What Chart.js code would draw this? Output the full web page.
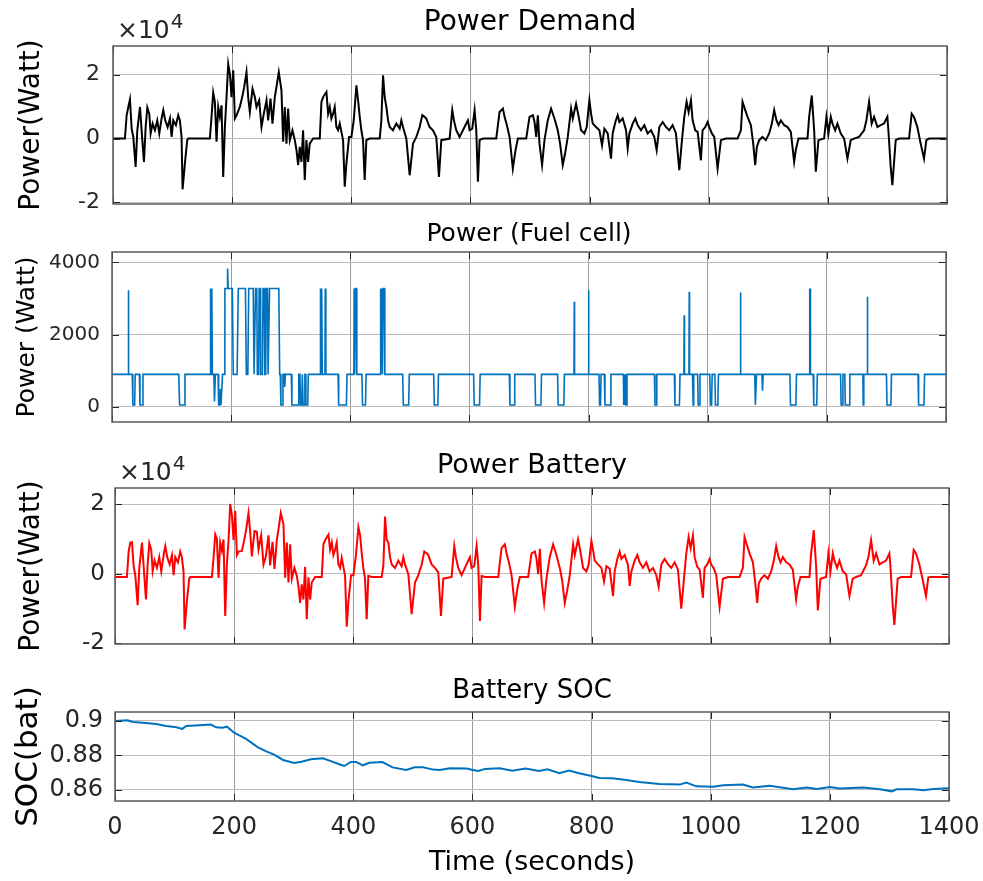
<!DOCTYPE html>
<html lang="en">
<head>
  <meta charset="UTF-8">
  <title>Power Demand / Fuel cell / Battery / SOC</title>
  <script src="https://cdn.jsdelivr.net/npm/chart.js"></script>
  <style>
    body { margin: 0; background: #fff; }
    #fig { position: relative; width: 983px; height: 881px; background: #fff; }
    #fig canvas { position: absolute; left: 0; }
  </style>
</head>
<body>
  <div id="fig">
    <canvas id="demandChart" width="983" height="215" style="top:0"></canvas>
    <canvas id="fuelChart" width="983" height="215" style="top:215px"></canvas>
    <canvas id="batteryChart" width="983" height="225" style="top:430px"></canvas>
    <canvas id="socChart" width="983" height="226" style="top:655px"></canvas>
  </div>

  <script>
    // time axis (seconds)
    const timeTicks = [0, 200, 400, 600, 800, 1000, 1200, 1400];

    // drive cycle sample times (s), shared by demand and battery
    const driveTime = [
      0, 20, 22.9, 25.7, 28.5, 31.3, 34.1, 38, 40.8, 45.3,
      49.2, 52, 54.8, 57.6, 60.9, 63.2, 66.5, 70.4, 74.3, 77.7,
      81.6, 84.4, 87.7, 91.7, 95.6, 98.4, 101.2, 105.6, 109.5, 112.3,
      115.1, 116.8, 120.7, 124.6, 126.3, 162.6, 165.4, 168.2, 171, 173.8,
      176.6, 179.4, 182.2, 185, 187.8, 190.6, 193.4, 196.2, 199, 201.8,
      204.6, 207.4, 212.9, 216.9, 220.2, 224.1, 226.9, 229.7, 234.2, 238.1,
      240.9, 245.4, 249.3, 253.2, 257.7, 260.4, 264.4, 267.7, 271.6, 274.4,
      278.3, 282.8, 285.6, 288.4, 291.2, 294, 296.8, 301.2, 305.2, 308,
      310.8, 313.5, 316.3, 319.1, 321.9, 324.7, 327.5, 330.3, 335.9, 347.1,
      349.9, 352.7, 358.3, 361.1, 363.9, 366.6, 369.4, 372.2, 375, 377.8,
      380.6, 386.2, 389, 391.8, 396.3, 400.2, 404.1, 408.6, 411.4, 414.2,
      416.9, 419.7, 422.5, 425.3, 430.9, 447.7, 450.5, 453.3, 456.1, 458.9,
      461.7, 464.5, 470, 475.6, 481.2, 484, 486.8, 492.4, 498, 503.6,
      509.2, 514.8, 519.2, 523.1, 525.9, 531.5, 537.1, 542.7, 547.2, 551.1,
      565.1, 569.5, 572.3, 576.2, 581.8, 587.4, 593, 595.8, 598.6, 603.1,
      607, 609.8, 612.6, 615.4, 620.9, 643.3, 648.9, 654.5, 657.3, 661.2,
      665.7, 671.2, 675.7, 679.6, 693.6, 699.2, 704.8, 707.6, 710.4, 713.2,
      715.9, 720.3, 724.3, 729.8, 735.4, 741, 746.6, 750.5, 755, 758.9,
      763.4, 769, 771.8, 777.3, 781.8, 785.7, 791.3, 795.2, 799.7, 802.5,
      805.3, 810.9, 816.5, 820.9, 824.9, 830.4, 836, 838.8, 843.3, 847.2,
      850, 855.6, 861.2, 864, 866.8, 872.4, 876.8, 880.7, 886.3, 891.9,
      897.5, 903.1, 908.7, 912.6, 917.1, 922.7, 928.3, 933.8, 939.4, 945,
      950.6, 955.1, 959, 962.9, 966.3, 970.2, 973, 977.4, 981.4, 986.9,
      989.7, 994.2, 998.1, 1000.9, 1005.4, 1009.3, 1014.9, 1020.5, 1028.9, 1048.4,
      1054, 1056.8, 1061.3, 1065.2, 1070.8, 1074.7, 1078, 1080.8, 1084.7, 1090.3,
      1095.9, 1101.5, 1106, 1109.9, 1113.8, 1117.2, 1121.1, 1126.7, 1132.3, 1137.8,
      1143.4, 1146.2, 1150.7, 1165.8, 1168.6, 1173, 1177, 1179.8, 1184.2, 1193.7,
      1197.6, 1201, 1204.9, 1207.7, 1212.2, 1216.1, 1221.7, 1227.3, 1232.9, 1238.4,
      1244, 1252.4, 1260.8, 1264.7, 1269.2, 1273.6, 1277.6, 1283.2, 1288.7, 1294.3,
      1299.9, 1301.6, 1305.5, 1308.3, 1313.9, 1319.5, 1336.3, 1340.7, 1344.6, 1350.2,
      1355.8, 1361.4, 1365.3, 1369.8, 1400
    ];

    // power demand (x 10^4 W)
    const demandPower = [
      0, 0, 0.73, 0.99, 1.23, 0.31, 0.05, -0.89, 0.26, 0.99,
      -0.05, -0.73, 0.36, 0.97, 0.78, 0.16, 0.47, 0.26, 0.57, 0.16,
      0.63, 0.89, 0.57, 0.36, 0.63, 0.05, 0.57, 0.42, 0.73, 0.57,
      0.05, -1.59, -0.78, -0.05, 0, 0, 0.68, 1.44, 1.15, -0.10,
      0.99, 0.68, 1.04, -1.20, 0.36, 1.30, 2.34, 2.03, 1.30, 2.14,
      0.63, 0.73, 0.99, 1.30, 1.61, 2.08, 1.30, 0.83, 1.56, 1.30,
      0.99, 1.20, 0.36, 0.78, 1.20, 0.57, 1.25, 0.47, 1.30, 1.61,
      2.08, 1.51, -0.10, 0.99, -0.16, 0.94, -0.05, 0.26, -0.05, -0.36,
      -0.83, -0.26, -0.73, 0.26, -1.30, -0.05, -0.73, -0.16, 0, 0,
      1.15, 1.30, 1.46, 0.78, 0.99, 0.63, 0.78, 0.99, 0.36, 0.26,
      0.47, -0.05, -1.51, -0.78, 0.05, 0.05, 0.57, 1.67, 1.20, 0.68,
      0.26, -0.05, -1.30, -0.05, 0, 0, 0.57, 1.98, 1.30, 0.99,
      0.57, 0.36, 0.26, 0.47, 0.31, 0.57, 0.36, 0, -1.15, -0.16,
      0.05, 0.36, 0.73, 0.68, 0.63, 0.36, 0.26, 0.05, -1.20, -0.05,
      0, 0.89, 0.57, 0.26, 0.05, 0.26, 0.47, 0.57, 0.26, 0.31,
      0.89, 0.26, -1.35, -0.05, 0, 0, 0.83, 0.94, 0.68, 0.42,
      0.05, -0.94, -0.36, 0, 0, 0.68, 0.73, 0.52, 0.05, 0.73,
      -0.16, -0.83, -0.05, 0.57, 0.94, 0.63, 0.26, -0.16, -0.83, -0.47,
      0.05, 0.94, 0.63, 1.09, 0.68, 0.26, 0.16, 0.36, 1.20, 0.78,
      0.47, 0.36, 0.26, -0.21, 0.31, 0.16, -0.63, 0.16, 0.52, 0.73,
      0.52, 0.63, 0.26, -0.31, 0.16, 0.47, 0.63, 0.42, 0.26, 0.42,
      0.16, 0.26, 0.05, -0.36, 0.36, 0.52, 0.36, 0.26, 0.42, 0.16,
      -0.99, -0.05, 0.68, 1.15, 0.83, 1.20, 0.57, 0.26, 0.21, -0.68,
      0.26, 0.36, 0.52, 0.36, 0.16, 0.05, -0.94, -0.05, 0, 0,
      0.26, 1.15, 0.89, 0.68, 0.42, -0.16, -0.83, -0.26, -0.05, 0.05,
      -0.05, 0.16, 0.47, 0.89, 0.57, 0.42, 0.57, 0.42, 0.36, 0.21,
      -0.73, -0.36, 0, 0, 0.68, 1.35, 0.26, -1.04, -0.05, 0,
      0.68, 0.16, 0.68, 0.47, 0.26, 0.47, 0.16, 0, -0.63, -0.05,
      0, 0.05, 0.26, 0.57, 1.15, 0.47, 0.68, 0.36, 0.42, 0.47,
      0.68, 0.26, -0.89, -1.46, -0.05, 0, 0, 0.78, 0.68, 0.36,
      -0.16, -0.63, -0.05, 0, 0
    ];

    // battery power (x 10^4 W)
    const batteryPower = [
      -0.09, -0.09, 0.64, 0.90, 0.91, 0.22, -0.04, -0.90, 0.17, 0.90,
      -0.06, -0.74, 0.27, 0.88, 0.69, 0.07, 0.38, 0.17, 0.48, 0.07,
      0.54, 0.80, 0.48, 0.27, 0.54, -0.04, 0.48, 0.33, 0.64, 0.48,
      0.05, -1.60, -0.79, -0.14, -0.09, -0.09, 0.45, 1.13, 1.00, -0.12,
      0.90, 0.67, 0.99, -1.21, 0.27, 0.97, 2.01, 1.70, 0.97, 1.81,
      0.54, 0.64, 0.66, 0.97, 1.28, 1.75, 1.21, 0.50, 1.23, 1.21,
      0.70, 1.11, 0.27, 0.50, 1.11, 0.24, 0.92, 0.14, 0.97, 1.28,
      1.75, 1.42, -0.11, 0.90, -0.25, 0.85, -0.14, 0.17, -0.06, -0.37,
      -0.84, -0.30, -0.74, 0.20, -1.31, -0.10, -0.74, -0.25, -0.09, -0.09,
      0.85, 0.97, 1.13, 0.69, 0.90, 0.54, 0.69, 0.90, 0.27, 0.17,
      0.46, -0.06, -1.52, -0.79, -0.04, -0.04, 0.48, 1.34, 1.11, 0.59,
      0.17, -0.14, -1.31, -0.06, -0.09, -0.09, 0.24, 1.65, 0.97, 0.90,
      0.48, 0.27, 0.17, 0.38, 0.22, 0.48, 0.27, -0.01, -1.16, -0.25,
      -0.04, 0.27, 0.64, 0.59, 0.54, 0.27, 0.17, 0.04, -1.21, -0.14,
      -0.09, 0.80, 0.48, 0.17, -0.04, 0.17, 0.38, 0.48, 0.17, 0.22,
      0.80, 0.25, -1.36, -0.06, -0.09, -0.09, 0.74, 0.85, 0.59, 0.33,
      -0.04, -0.95, -0.40, -0.09, -0.09, 0.59, 0.64, 0.43, -0.01, 0.72,
      -0.17, -0.84, -0.14, 0.48, 0.85, 0.54, 0.17, -0.17, -0.84, -0.50,
      -0.04, 0.85, 0.54, 1.00, 0.59, 0.17, 0.07, 0.27, 0.95, 0.69,
      0.38, 0.27, 0.17, -0.22, 0.22, 0.15, -0.64, 0.07, 0.43, 0.64,
      0.43, 0.54, 0.25, -0.35, 0.07, 0.38, 0.54, 0.33, 0.17, 0.33,
      0.07, 0.17, -0.04, -0.37, 0.27, 0.43, 0.27, 0.17, 0.33, 0.12,
      -1.00, -0.14, 0.59, 1.06, 0.74, 1.11, 0.48, 0.20, 0.12, -0.69,
      0.17, 0.27, 0.43, 0.27, 0.15, -0.04, -0.95, -0.14, -0.09, -0.09,
      0.17, 1.06, 0.80, 0.59, 0.33, -0.25, -0.84, -0.27, -0.14, -0.04,
      -0.14, 0.07, 0.38, 0.80, 0.48, 0.33, 0.48, 0.33, 0.27, 0.12,
      -0.74, -0.37, -0.09, -0.09, 0.59, 1.26, 0.20, -1.05, -0.14, -0.09,
      0.59, 0.07, 0.59, 0.38, 0.17, 0.38, 0.07, -0.01, -0.64, -0.14,
      -0.09, -0.04, 0.25, 0.48, 0.97, 0.38, 0.59, 0.27, 0.33, 0.38,
      0.59, 0.25, -0.90, -1.47, -0.14, -0.09, -0.09, 0.69, 0.59, 0.27,
      -0.17, -0.64, -0.10, -0.09, -0.09
    ];

    // fuel cell power (W), step profile
    const fuelTime = [
      0, 27, 27.5, 28, 34, 35, 38, 39, 46, 47, 51, 52,
      112, 113.5, 121, 122.5, 165, 165.5, 166.5, 167.5, 168.5, 171, 172, 173.5,
      178, 179, 181, 182, 183, 184.5, 185.5, 188.5, 189.5, 193.5, 194, 195, 202, 203.5,
      210, 212, 224, 225.5, 228, 229.5, 237, 238.5, 240, 241, 243, 244,
      246, 247, 248.5, 249.5, 252.5, 253.5, 255.5, 256.5, 258, 259, 261, 262,
      263.5, 264.5, 280, 281.5, 282.5, 283.5, 286, 287, 289, 290, 291,
      301, 302, 312.5, 313.5, 315.5, 316.5, 318.5, 319.5, 320, 320.8, 323, 323.8, 324.5, 325.5, 328.5, 329.5,
      349.5, 350, 351, 352, 353, 357.5, 358, 359, 379.5, 380.5, 393.5, 394.5,
      406, 406.5, 407.5, 408.5, 410, 411, 419.5, 420.5, 425.5, 426.5,
      450, 450.5, 451.5, 452.5, 454, 455, 457, 458, 488, 489, 498, 499,
      540, 541, 547, 548, 607, 608, 617, 618, 667, 668, 675, 676,
      710, 711, 720, 721, 748, 749, 758.5, 759.5, 775.5, 776, 776.5,
      799.5, 800, 800.5, 817.5, 818.5, 820, 821, 826.5, 827.5, 836.5, 837.5,
      858.5, 859, 860, 861, 862, 863, 864.5, 910.5, 911.5, 913.5, 914.5,
      944, 945, 952.5, 953.5, 960, 960.5, 961, 968.5, 969, 969.5,
      974.5, 975.5, 976.5, 983, 984, 986, 987, 1003.5, 1004.5, 1006.5, 1007.5,
      1012, 1013, 1017, 1018, 1054.5, 1055, 1055.5, 1079, 1080, 1081, 1082,
      1091, 1092, 1093, 1138, 1139, 1148, 1149, 1170.5, 1171, 1171.5, 1172, 1172.5,
      1177, 1178, 1183, 1184, 1223, 1224, 1226, 1227, 1230, 1231, 1237.5, 1238.5,
      1260.5, 1261, 1262, 1267.5, 1268, 1268.5, 1300, 1301, 1307.5, 1308.5,
      1353, 1354, 1363, 1364, 1400
    ];
    const fuelPower = [
      900, 900, 3230, 900, 900, 50, 50, 900, 900, 50, 50, 900,
      900, 50, 50, 900, 900, 3280, 900, 3280, 900, 900, 150, 900,
      900, 50, 50, 500, 50, 50, 900, 900, 3280, 3280, 3830, 3280, 3280, 900,
      900, 3280, 3280, 900, 900, 3280, 3280, 900, 900, 3280, 3280, 900,
      900, 3280, 3280, 900, 900, 3280, 3280, 900, 900, 3280, 3280, 900,
      900, 3280, 3280, 900, 900, 50, 50, 900, 900, 550, 900,
      900, 50, 50, 900, 900, 50, 50, 900, 900, 50, 50, 900, 900, 50, 50, 900,
      900, 3280, 900, 3280, 900, 900, 3280, 900, 900, 50, 50, 900,
      900, 3280, 900, 3280, 3280, 900, 900, 50, 50, 900,
      900, 3280, 900, 3280, 900, 3280, 3280, 900, 900, 50, 50, 900,
      900, 50, 50, 900, 900, 50, 50, 900, 900, 50, 50, 900,
      900, 50, 50, 900, 900, 50, 50, 900, 900, 2910, 900,
      900, 3230, 900, 900, 50, 50, 900, 900, 50, 50, 900,
      900, 50, 900, 50, 900, 50, 900, 900, 50, 50, 900,
      900, 50, 50, 900, 900, 2540, 900, 900, 3190, 900,
      900, 50, 900, 900, 50, 50, 900, 900, 50, 50, 900,
      900, 50, 50, 900, 900, 3170, 900, 900, 50, 50, 900,
      900, 450, 900, 900, 50, 50, 900, 900, 3280, 900, 3280, 900,
      900, 50, 50, 900, 900, 50, 50, 900, 900, 50, 50, 900,
      900, 50, 900, 900, 3050, 900, 900, 50, 50, 900,
      900, 50, 50, 900, 900
    ];

    // battery state of charge
    const socTime = [
      0, 21, 30, 47, 69, 86, 103, 113, 119.5, 142,
      161, 170, 180, 188, 200, 220, 240, 254, 268, 282,
      301, 313, 329, 349, 360, 380, 385, 396, 405, 416,
      427, 449, 466, 489, 503, 517, 534, 545, 562, 590,
      601, 610, 621, 646, 667, 689, 712, 726, 746, 762,
      779, 800, 813, 835, 858, 880, 914, 948, 959, 976,
      1004, 1021, 1054, 1071, 1099, 1138, 1161, 1178, 1200, 1217,
      1256, 1284, 1304, 1312, 1340, 1357, 1374, 1400
    ];
    const socValue = [
      0.9, 0.9004, 0.8994, 0.899, 0.8983, 0.8971, 0.8963, 0.8954, 0.8971, 0.8975,
      0.8979, 0.8963, 0.8961, 0.8967, 0.8932, 0.8896, 0.8847, 0.8824, 0.8803, 0.8774,
      0.8757, 0.8764, 0.8778, 0.8784, 0.877, 0.8745, 0.8739, 0.8762, 0.8762, 0.8743,
      0.8758, 0.8762, 0.8731, 0.8716, 0.8731, 0.8731, 0.8718, 0.8716, 0.8726, 0.8724,
      0.8716, 0.871, 0.8722, 0.8726, 0.8712, 0.8724, 0.871, 0.872, 0.8697, 0.8712,
      0.8697, 0.8681, 0.867, 0.8668, 0.8658, 0.8646, 0.8635, 0.8631, 0.8643, 0.8621,
      0.8619, 0.8627, 0.8631, 0.8614, 0.8625, 0.8604, 0.8614, 0.8606, 0.8617, 0.8608,
      0.8614, 0.8604, 0.8592, 0.8604, 0.8604, 0.8598, 0.8606, 0.861
    ];

    const demandTicks = [-2, 0, 2];
    const fuelTicks = [0, 2000, 4000];
    const batteryTicks = [-2, 0, 2];
    const socTicks = [0.86, 0.88, 0.9];

    const FONT = "'DejaVu Sans', sans-serif";
    const INK = '#262626';

    const toPoints = (xs, ys) => xs.map((x, i) => ({ x: x, y: ys[i] }));
    const plain = v => String(v);

    // box around the axes, inward ticks, and the x10^n multiplier
    const frame = {
      id: 'frame',
      afterDraw(chart, args, opts) {
        const { ctx, chartArea: a, scales: { x, y } } = chart;
        ctx.save();
        ctx.strokeStyle = INK;
        ctx.lineWidth = 1;
        ctx.beginPath();
        x.ticks.forEach(t => {
          const px = Math.round(x.getPixelForValue(t.value)) + 0.5;
          ctx.moveTo(px, a.bottom); ctx.lineTo(px, a.bottom - 7);
          ctx.moveTo(px, a.top); ctx.lineTo(px, a.top + 7);
        });
        y.ticks.forEach(t => {
          const py = Math.round(y.getPixelForValue(t.value)) + 0.5;
          ctx.moveTo(a.left, py); ctx.lineTo(a.left + 7, py);
          ctx.moveTo(a.right, py); ctx.lineTo(a.right - 7, py);
        });
        ctx.stroke();
        ctx.strokeStyle = '#5a5a5a';
        ctx.lineWidth = 1.5;
        ctx.strokeRect(a.left, a.top, a.right - a.left, a.bottom - a.top);
        if (opts.exponent) {
          ctx.fillStyle = INK;
          ctx.textBaseline = 'alphabetic';
          ctx.font = '25px ' + FONT;
          const base = a.top - 8;
          ctx.fillText('\u00d710', a.left + 4, base);
          const w = ctx.measureText('\u00d710').width;
          ctx.font = '20px ' + FONT;
          ctx.fillText(opts.exponent, a.left + 5 + w, base - 10);
        }
        ctx.restore();
      }
    };

    function panel(id, p) {
      return new Chart(document.getElementById(id), {
        type: 'line',
        data: {
          datasets: [{
            data: p.points,
            borderColor: p.color,
            borderWidth: p.lineWidth,
            pointRadius: 0,
            tension: 0,
            fill: false
          }]
        },
        options: {
          responsive: false,
          animation: false,
          devicePixelRatio: 1,
          layout: { padding: { left: 0, right: 983 - p.right, top: 0, bottom: 0 } },
          plugins: {
            legend: { display: false },
            tooltip: { enabled: false },
            title: {
              display: true,
              fullSize: false,
              text: p.title,
              color: '#000',
              font: { family: FONT, size: p.titleSize, weight: 'normal' },
              padding: p.titlePad
            },
            frame: { exponent: p.exponent }
          },
          scales: {
            x: {
              type: 'linear',
              min: 0,
              max: 1400,
              afterBuildTicks: s => { s.ticks = timeTicks.map(v => ({ value: v })); },
              ticks: {
                display: !!p.xTitle,
                color: INK,
                padding: 12,
                maxRotation: 0,
                callback: plain,
                font: { family: FONT, size: 24 }
              },
              grid: { color: '#9a9a9a', lineWidth: 1, drawTicks: false },
              border: { display: false },
              title: {
                display: !!p.xTitle,
                text: p.xTitle || '',
                color: '#000',
                font: { family: FONT, size: 27 },
                padding: { top: 0, bottom: 2 }
              },
              afterFit: s => { s.height = p.xHeight; s.paddingLeft = 0; s.paddingRight = 0; }
            },
            y: {
              min: p.min,
              max: p.max,
              afterBuildTicks: s => { s.ticks = p.ticks.map(v => ({ value: v })); },
              ticks: {
                color: INK,
                padding: p.tickPad,
                callback: plain,
                font: { family: FONT, size: p.tickSize }
              },
              grid: { color: '#bcbcbc', lineWidth: 1, drawTicks: false },
              border: { display: false },
              title: {
                display: true,
                text: p.yTitle,
                color: '#000',
                font: { family: FONT, size: p.yTitleSize },
                padding: { top: p.yTitleOffset, bottom: 0 }
              },
              afterFit: s => { s.width = p.left; s.paddingTop = 0; s.paddingBottom = 0; }
            }
          }
        },
        plugins: [frame]
      });
    }

    panel('demandChart', {
      points: toPoints(driveTime, demandPower),
      color: '#000000', lineWidth: 2,
      title: 'Power Demand', titleSize: 28, titlePad: { top: 6, bottom: 6.4 },
      left: 113, right: 947, xHeight: 11,
      min: -2.05, max: 2.9, ticks: demandTicks, tickSize: 22, tickPad: 13,
      yTitle: 'Power(Watt)', yTitleSize: 28, yTitleOffset: 15,
      exponent: '4'
    });

    panel('fuelChart', {
      points: toPoints(fuelTime, fuelPower),
      color: '#0072BD', lineWidth: 1.6,
      title: 'Power (Fuel cell)', titleSize: 25, titlePad: { top: 4, bottom: 3 },
      left: 112, right: 946, xHeight: 8,
      min: -420, max: 4290, ticks: fuelTicks, tickSize: 20, tickPad: 12,
      yTitle: 'Power (Watt)', yTitleSize: 25, yTitleOffset: 12
    });

    panel('batteryChart', {
      points: toPoints(driveTime, batteryPower),
      color: '#FF0000', lineWidth: 2,
      title: 'Power Battery', titleSize: 27, titlePad: { top: 20, bottom: 5.6 },
      left: 115, right: 949, xHeight: 11,
      min: -2.02, max: 2.47, ticks: batteryTicks, tickSize: 23, tickPad: 10,
      yTitle: 'Power(Watt)', yTitleSize: 28, yTitleOffset: 15,
      exponent: '4'
    });

    panel('socChart', {
      points: toPoints(socTime, socValue),
      color: '#0072BD', lineWidth: 2,
      title: 'Battery SOC', titleSize: 26, titlePad: { top: 21, bottom: 4.8 },
      left: 115, right: 949, xHeight: 80,
      min: 0.8536, max: 0.9052, ticks: socTicks, tickSize: 24, tickPad: 12,
      yTitle: 'SOC(bat)', yTitleSize: 31, yTitleOffset: 10,
      xTitle: 'Time (seconds)'
    });
  </script>
</body>
</html>
